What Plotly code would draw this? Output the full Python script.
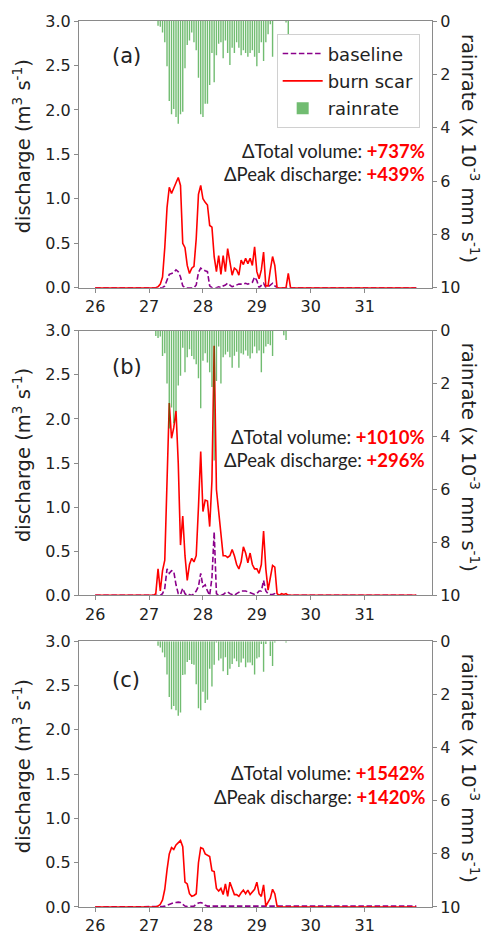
import plotly.graph_objects as go

# ---------------- data (hourly) ----------------
DAY0 = 26
HOURS_PER_DAY = 24
N_HOURS = 144
EVENT_START_HOUR = 27  # hour index of the first value in each event list

# panel (a)
rain_a = [0, 0.18, 0.22, 0.43, 0.8, 1.7, 3.0, 3.5, 3.3, 3.6, 3.85, 3.5, 3.4, 1.77, 0.9, 0.73,
          0.43, 0.8, 1.1, 2.13, 3.5, 3.6, 3.1, 3.1, 2.4, 1.2, 2.3, 1.28, 0.85, 0.8, 1.4, 0.73,
          1.2, 1.65, 1.0, 1.2, 0.8, 1.0, 1.28, 1.1, 1.2, 1.34, 1.2, 1.1, 1.34, 1.7, 1.2, 0.8,
          1.5, 0.8, 0.5, 0.12, 1.34, 0, 0, 0, 0, 0, 0.06, 0.5, 0]
burn_a = [0.0, 0.01, 0.04, 0.12, 0.45, 0.9, 1.13, 1.06, 1.13, 1.18, 1.24, 1.15, 0.50, 0.45,
          0.25, 0.16, 0.22, 0.24, 0.55, 1.05, 1.15, 1.0, 0.96, 0.93, 0.7, 0.68, 0.35, 0.18, 0.36,
          0.15, 0.36, 0.18, 0.44, 0.29, 0.14, 0.22, 0.2, 0.14, 0.31, 0.26, 0.33, 0.27, 0.33,
          0.25, 0.46, 0.18, 0.1, 0.2, 0.4, 0.02, 0.02, 0.2, 0.35, 0.25, 0, 0, 0, 0, 0, 0.16, 0]
base_a = [0, 0, 0, 0, 0.02, 0.08, 0.15, 0.16, 0.17, 0.2, 0.18, 0.12, 0.02, 0, 0, 0, 0, 0, 0.03,
          0.17, 0.22, 0.2, 0.19, 0.18, 0.02, 0, 0, 0, 0.01, 0, 0.02, 0.03, 0.05, 0.03, 0.01,
          0.02, 0.03, 0.04, 0.04, 0.04, 0.05, 0.04, 0.05, 0.06, 0.12, 0.08, 0, 0.03, 0.05, 0,
          0.01, 0.03, 0.05, 0.02, 0, 0, 0, 0, 0, 0, 0]

# panel (b)
rain_b = [0.2, 0.28, 0.22, 0.96, 0.85, 2.0, 3.7, 2.9, 3.5, 3.05, 2.07, 1.7, 0.65, 1.57, 1.0, 0.7,
          0.96, 1.08, 1.27, 1.8, 2.93, 1.14, 0.85, 1.2, 1.57, 2.13, 4.9, 1.9, 0.6, 2.0, 1.0, 0.9,
          0.8, 1.0, 1.4, 0.95, 0.8, 1.4, 0.85, 0.9, 0.75, 0.95, 1.05, 0.85, 0.6, 0.85, 0.75,
          1.57, 0.85, 0.6, 0.5, 0.55, 0.96, 0, 0, 0, 0, 0.17, 0.35, 0, 0]
burn_b = [0.02, 0.3, 0.05, 0.28, 0.4, 1.3, 2.18, 1.78, 1.9, 2.09, 1.5, 0.57, 0.9, 0.45, 0.17,
          0.35, 0.42, 0.38, 0.45, 1.0, 1.63, 0.95, 1.08, 1.07, 0.78, 1.3, 2.83, 1.2, 0.95, 0.75,
          0.45, 0.45, 0.43, 0.45, 0.52, 0.45, 0.35, 0.3, 0.38, 0.55, 0.48, 0.37, 0.48, 0.35,
          0.3, 0.3, 0.25, 0.35, 0.73, 0.3, 0.06, 0.2, 0.34, 0.32, 0.02, 0, 0.02, 0.01, 0.02, 0, 0]
base_b = [0, 0, 0, 0.02, 0.08, 0.3, 0.25, 0.28, 0.27, 0.12, 0.02, 0.01, 0.08, 0.02, 0, 0.01, 0,
          0.02, 0.05, 0.1, 0.25, 0.1, 0.12, 0.05, 0, 0.2, 0.72, 0.02, 0, 0, 0.01, 0.03, 0.04,
          0.02, 0.01, 0, 0.02, 0.04, 0.05, 0.05, 0.05, 0.04, 0.03, 0.02, 0.01, 0.02, 0.05, 0.05,
          0.17, 0.05, 0.02, 0.01, 0.01, 0.02, 0, 0, 0, 0, 0, 0, 0]

# panel (c)
rain_c = [0, 0.17, 0.23, 0.42, 0.6, 1.25, 2.1, 2.56, 2.44, 2.6, 2.8, 2.68, 1.27, 1.25, 0.78, 0.7,
          0.85, 0.88, 1.62, 2.52, 2.6, 1.9, 2.32, 2.2, 1.03, 1.7, 0.88, 0.05, 0.72, 0.65, 1.13,
          0.6, 1.27, 1.03, 0.85, 0.65, 0.75, 0.97, 0.8, 0.65, 0.98, 0.8, 0.8, 0.9, 1.25, 0.65,
          0.6, 0.1, 1.15, 0.1, 0, 0.55, 0.93, 0.05, 0, 0, 0, 0, 0.05, 0, 0]
burn_c = [0, 0.01, 0.03, 0.08, 0.2, 0.42, 0.6, 0.67, 0.65, 0.7, 0.72, 0.75, 0.68, 0.28, 0.26,
          0.15, 0.12, 0.13, 0.15, 0.5, 0.67, 0.66, 0.6, 0.58, 0.57, 0.41, 0.4, 0.21, 0.18, 0.21,
          0.14, 0.26, 0.12, 0.28, 0.2, 0.14, 0.14, 0.12, 0.16, 0.19, 0.15, 0.19, 0.14, 0.17,
          0.2, 0.28, 0.15, 0.12, 0.25, 0.01, 0.06, 0.1, 0.2, 0.15, 0.01, 0, 0, 0, 0, 0, 0]
base_c = [0, 0, 0, 0.005, 0.01, 0.02, 0.03, 0.04, 0.05, 0.05, 0.055, 0.05, 0.03, 0.01, 0.005,
          0.005, 0.005, 0.01, 0.03, 0.045, 0.05, 0.04, 0.02, 0.01]
BASELINE_C_TAIL = 0.01

pct_total = ["+737%", "+1010%", "+1542%"]
pct_peak = ["+439%", "+296%", "+1420%"]
panel_labels = ["(a)", "(b)", "(c)"]
x_ticks = [26, 27, 28, 29, 30, 31]
q_ticks = [0.0, 0.5, 1.0, 1.5, 2.0, 2.5, 3.0]
rain_ticks = [0, 2, 4, 6, 8, 10]


def full(ev, tail=0.0):
    pre = [0.0] * EVENT_START_HOUR
    post = [tail] * max(0, N_HOURS - EVENT_START_HOUR - len(ev))
    return (pre + list(ev) + post)[:N_HOURS]


times = [DAY0 + h / HOURS_PER_DAY for h in range(N_HOURS)]

panels = [
    (full(rain_a), full(burn_a), full(base_a)),
    (full(rain_b), full(burn_b), full(base_b)),
    (full(rain_c), full(burn_c), full(base_c, BASELINE_C_TAIL)),
]

# ---------------- figure ----------------
W, H = 483, 947
ML, MR, MT, MB = 79, 51, 17, 23
domains = [[0.699, 1.0], [0.3517, 0.6505], [0.0, 0.2999]]

TICK_FONT = dict(family="DejaVu Sans", size=16, color="#222")
AX_COLOR = "#8a8a8a"

fig = go.Figure()
layout = dict(
    width=W, height=H,
    margin=dict(l=ML, r=MR, t=MT, b=MB),
    plot_bgcolor="white", paper_bgcolor="white",
    showlegend=True,
    legend=dict(x=0.56, y=0.985, xanchor="left", yanchor="top",
                bgcolor="rgba(255,255,255,0.85)", bordercolor="#d0d0d0", borderwidth=1,
                font=dict(family="DejaVu Sans", size=18, color="#222"),
                tracegroupgap=1, itemwidth=40),
    annotations=[],
)

for i, (rain, burn, base) in enumerate(panels):
    xn = "x" if i == 0 else f"x{i+1}"
    yl = "y" if i == 0 else f"y{2*i+1}"
    yr = f"y{2*i+2}"
    xkey = "xaxis" if i == 0 else f"xaxis{i+1}"
    ylkey = "yaxis" if i == 0 else f"yaxis{2*i+1}"
    yrkey = f"yaxis{2*i+2}"
    first = (i == 0)

    fig.add_trace(go.Scatter(x=times, y=base, mode="lines", name="baseline",
                             line=dict(color="#8B008B", width=1.6, dash="5.5px,2.6px"),
                             xaxis=xn, yaxis=yl, showlegend=first, legendgroup="g1"))
    fig.add_trace(go.Scatter(x=times, y=burn, mode="lines", name="burn scar",
                             line=dict(color="#ff0000", width=1.6),
                             xaxis=xn, yaxis=yl, showlegend=first, legendgroup="g2"))
    fig.add_trace(go.Bar(x=times, y=rain, name="rainrate", width=0.026,
                         marker=dict(color="rgba(10,140,10,0.58)", line=dict(width=0)),
                         xaxis=xn, yaxis=yr, showlegend=first, legendgroup="g3"))

    layout[xkey] = dict(domain=[0, 1], anchor=yl, range=[25.7, 32.25],
                        tickvals=x_ticks, ticktext=[str(v) for v in x_ticks],
                        showline=True, linecolor=AX_COLOR, linewidth=1, mirror=True,
                        ticks="outside", ticklen=4, tickcolor=AX_COLOR,
                        showgrid=False, zeroline=False, tickfont=TICK_FONT)
    layout[ylkey] = dict(domain=domains[i], anchor=xn, range=[0, 3],
                         tickvals=q_ticks, ticktext=[f"{v:.1f}" for v in q_ticks],
                         showline=True, linecolor=AX_COLOR, linewidth=1,
                         ticks="outside", ticklen=4, tickcolor=AX_COLOR,
                         showgrid=False, zeroline=False, tickfont=TICK_FONT)
    layout[yrkey] = dict(overlaying=yl, anchor=xn, side="right", range=[10, 0],
                         tickvals=rain_ticks, ticktext=[str(v) for v in rain_ticks],
                         showline=True, linecolor=AX_COLOR, linewidth=1,
                         ticks="outside", ticklen=4, tickcolor=AX_COLOR,
                         showgrid=False, zeroline=False, tickfont=TICK_FONT)

    xd = f"{xn} domain"
    yd = f"{yl} domain"
    lab_y = [0.923, 0.915, 0.908][i]
    tot_y = [0.513, 0.598, 0.504][i]
    pk_y = [0.425, 0.513, 0.415][i]
    layout["annotations"] += [
        dict(text=panel_labels[i], xref=xd, yref=yd, x=0.088, y=lab_y,
             showarrow=False, font=dict(family="DejaVu Sans", size=21, color="#222")),
        dict(text=f'ΔTotal volume: <span style="color:#ff0000"><b>{pct_total[i]}</b></span>',
             xref=xd, yref=yd, x=0.986, y=tot_y, xanchor="right", yanchor="middle",
             showarrow=False, font=dict(family="Lato", size=18.5, color="#222")),
        dict(text=f'ΔPeak discharge: <span style="color:#ff0000"><b>{pct_peak[i]}</b></span>',
             xref=xd, yref=yd, x=0.986, y=pk_y, xanchor="right", yanchor="middle",
             showarrow=False, font=dict(family="Lato", size=18.5, color="#222")),
        dict(text="discharge (m<sup>3</sup> s<sup>-1</sup>)", textangle=-90,
             xref="paper", yref=yd, x=(22 - ML) / (W - ML - MR), y=0.53,
             xanchor="center", yanchor="middle", showarrow=False,
             font=dict(family="DejaVu Sans", size=19.5, color="#222")),
        dict(text="rainrate (x 10<sup>-3</sup> mm s<sup>-1</sup>)", textangle=90,
             xref="paper", yref=yd, x=(470 - ML) / (W - ML - MR), y=0.52,
             xanchor="center", yanchor="middle", showarrow=False,
             font=dict(family="DejaVu Sans", size=19.5, color="#222")),
    ]

fig.update_layout(**layout)
fig.write_html("out.html")
